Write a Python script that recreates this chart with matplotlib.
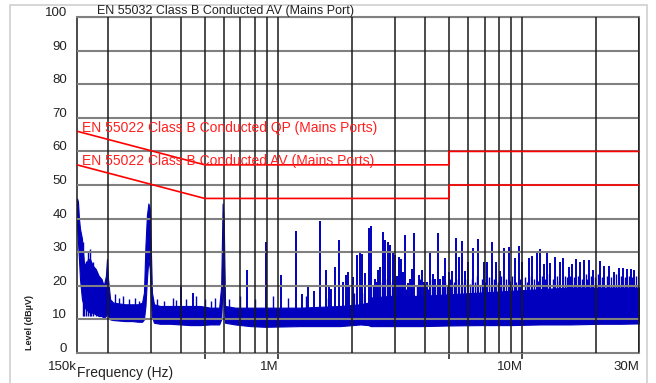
import matplotlib
matplotlib.use("Agg")
import matplotlib.pyplot as plt
import matplotlib.transforms as mtransforms
from matplotlib.patches import Rectangle

plt.rcParams['font.family'] = ['Liberation Sans', 'DejaVu Sans']

# limit lines (MHz, dBuV)
qp_freq = [0.15, 0.5, 5.0, 5.0, 30.0]
qp_level = [66, 56, 56, 60, 60]
av_freq = [0.15, 0.5, 5.0, 5.0, 30.0]
av_level = [56, 46, 46, 50, 50]

# dense noise band of the measured trace (MHz, lower edge, upper edge)
band_freq = [0.150, 0.1514, 0.1528, 0.1543, 0.1572, 0.1601, 0.1632, 0.1663, 0.1695,
             0.174, 0.179, 0.184, 0.189, 0.193, 0.197, 0.199, 0.201, 0.205, 0.211,
             0.236, 0.252, 0.267, 0.277, 0.282, 0.286, 0.290, 0.294, 0.298, 0.300,
             0.304, 0.310, 0.328, 0.361, 0.396, 0.436, 0.479, 0.526, 0.573, 0.584,
             0.592, 0.598, 0.606, 0.666, 0.768, 0.884, 1.23, 1.79, 2.17, 2.34,
             2.39, 2.88, 3.82, 5.07, 6.73, 8.93, 11.85, 15.7, 20.9, 25.2, 30.0]
band_low = [38, 33, 28, 22, 16, 14, 13, 12.5, 12,
            12, 11.5, 11, 11, 10.5, 11, 12, 11, 10, 9.8,
            9.5, 9.5, 9.3, 9.3, 10, 14, 22, 28, 25, 18,
            11, 9, 8.7, 8.7, 8.5, 8.3, 8.3, 8.5, 8.5, 10,
            20, 15, 9, 8.5, 8.0, 7.8, 8.0, 8.0, 8.5, 8.3,
            8.0, 8.0, 8.0, 8.2, 8.3, 8.3, 8.5, 8.5, 8.7, 8.7, 8.8]
band_high = [46, 45, 40, 37, 34, 27, 26, 28, 28,
             26, 25, 23, 22, 20, 23, 28, 22, 16, 15,
             14.5, 14.5, 14.5, 15, 18, 32, 41, 44.5, 43, 35,
             18, 14.5, 14, 14, 14, 14, 14, 13.5, 13.5, 20,
             44.5, 40, 14, 13.5, 13.5, 13.5, 13.5, 14, 14.5, 15,
             16.5, 17, 17, 17.5, 18, 18.5, 19, 19.5, 19.5, 19.5, 19.5]

# narrow spikes above the noise band (MHz, dBuV)
spike_freq = [0.400, 0.448, 0.743, 0.893, 1.028, 1.185, 1.25, 1.327, 1.40, 1.486,
              1.572, 1.617, 1.65, 1.711, 1.778, 1.846, 1.899, 1.935, 1.95, 2.023,
              2.101, 2.167, 2.208, 2.272, 2.359, 2.405, 2.48, 2.53, 2.569, 2.617,
              2.685, 2.745, 2.816, 2.876, 2.940, 3.017, 3.05, 3.111, 3.183, 3.25,
              3.315, 3.387, 3.45, 3.53, 3.608, 3.757, 3.879, 3.95, 4.068, 4.196,
              4.30, 4.40, 4.496, 4.611, 4.72, 4.835, 4.988, 5.151, 5.363, 5.480,
              5.658, 5.838, 5.967, 6.278, 6.580, 6.940, 7.166, 7.530, 7.820, 8.070,
              8.430, 8.780, 9.290, 9.650, 9.970, 10.61, 10.95, 11.48, 11.77, 12.22,
              12.62, 13.02, 13.65, 14.31, 14.68, 15.48, 15.98, 16.64, 17.17, 17.84,
              18.69, 19.48, 20.73, 21.67, 22.58, 23.67, 24.81, 25.86, 26.67, 27.89,
              28.58, 29.96]
spike_level = [19.6, 18.0, 24.7, 33.1, 23.2, 36.2, 17.5, 19.8, 18.5, 39.2,
               24.7, 20.0, 19.0, 25.7, 33.6, 21.2, 23.2, 24.2, 20.0, 22.7,
               29.2, 29.7, 29.5, 23.8, 37.1, 37.8, 22.0, 21.0, 24.7, 25.5,
               36.1, 33.6, 33.1, 32.1, 30.1, 29.2, 23.0, 28.7, 28.0, 24.0,
               35.1, 20.8, 22.0, 25.0, 35.6, 23.2, 24.7, 21.0, 21.0, 30.1,
               23.5, 22.0, 35.6, 22.0, 23.0, 28.2, 24.0, 24.5, 34.1, 28.7,
               33.3, 24.5, 27.0, 31.2, 33.8, 27.2, 27.2, 32.9, 27.2, 24.5,
               31.2, 31.4, 28.2, 31.8, 27.2, 28.2, 28.9, 29.7, 30.9, 26.5,
               30.4, 26.7, 28.7, 27.2, 28.4, 25.7, 26.5, 28.0, 27.2, 27.7,
               27.8, 24.7, 27.5, 26.0, 25.9, 24.2, 25.2, 25.2, 24.9, 24.9,
               24.7, 24.5]

# small ragged peaks on top of the noise band (MHz, dBuV)
ripple_freq = [0.158, 0.1605, 0.163, 0.1665, 0.169, 0.1715, 0.175, 0.180, 0.185, 0.190,
               0.214, 0.222, 0.232, 0.245, 0.258, 0.270, 0.320, 0.340, 0.370, 0.380,
               0.420, 0.460, 0.500, 0.530, 0.550, 0.630, 0.700, 0.800, 0.950, 1.10,
               1.30, 1.60, 1.90, 2.05, 2.20, 2.45, 2.50, 2.65, 2.72, 2.78,
               2.85, 2.92, 2.98, 3.08, 3.15, 3.22, 3.35, 3.50, 3.70, 3.80,
               3.98, 4.10, 4.25, 4.45, 4.55, 4.68, 4.80, 4.90, 5.05, 5.25,
               5.42, 5.60, 5.75, 5.90, 6.10, 6.20, 6.40, 6.50, 6.70, 6.85,
               7.05, 7.30, 7.45, 7.65, 7.95, 8.20, 8.35, 8.60, 8.90, 9.10,
               9.45, 9.80, 10.2, 10.4, 10.8, 11.2, 11.6, 12.0, 12.4, 12.8,
               13.3, 13.9, 14.1, 14.9, 15.2, 15.7, 16.3, 16.9, 17.5, 18.2,
               18.4, 19.0, 19.9, 20.3, 21.2, 22.1, 23.1, 24.2, 25.3, 26.2,
               27.3, 28.2, 29.3]
ripple_level = [33, 26, 27.5, 30, 31, 25, 27, 23, 22.5, 20,
                17.5, 16.5, 17, 16, 16.5, 15.5, 16, 15.5, 16.5, 15.8,
                16, 17, 16, 15.5, 16.5, 16, 17, 16, 17, 16.5,
                17, 16.5, 17, 18, 18, 20, 19, 21, 19, 22,
                20, 21, 19.5, 22, 20, 21, 19, 21, 20, 22,
                20.5, 19, 22, 20, 21, 19.5, 21, 20, 22, 21,
                22, 20, 21, 22, 20.5, 22, 21, 23, 20, 22,
                21, 22.5, 20, 22, 21, 23, 20, 22, 21.5, 23,
                21, 22, 22.5, 21, 23, 22, 21.5, 23, 22, 23.5,
                22, 23, 21.5, 23, 22.5, 23, 22.5, 23, 22, 23.5,
                22, 23, 22.5, 23.5, 22.5, 23, 22.5, 23.5, 23, 22.5,
                23, 22.5, 23]

grid_freq = [0.2, 0.3, 0.4, 0.5, 0.6, 0.7, 0.8, 0.9, 1, 2, 3, 4, 5, 6, 7, 8, 9,
             10, 20, 30]
tick_freq = [0.15, 0.5, 1, 5, 10, 30]
tick_text = ['150k', '', '1M', '', '10M', '30M']

trace_color = '#0000BE'

fig = plt.figure(figsize=(6.56, 3.83), dpi=100)
ax = fig.add_axes([77/656, 30/383, 562/656, 336/383])

ax.fill_between(band_freq, band_low, band_high, color=trace_color, lw=0.8,
                edgecolor=trace_color, zorder=1)
ax.vlines(ripple_freq, 11, ripple_level, color=trace_color, lw=1.0, zorder=1.2)
ax.vlines(spike_freq, 10, spike_level, color=trace_color, lw=1.4, zorder=1.5)

ax.plot(qp_freq, qp_level, color='#FF0000', lw=1.2, zorder=4)
ax.plot(av_freq, av_level, color='#FF0000', lw=1.2, zorder=4)
ax.text(0.157, 67.1, 'EN 55022 Class B Conducted QP (Mains Ports)', color='#FF2020',
        fontsize=10, va='center', zorder=5)
ax.text(0.157, 57.1, 'EN 55022 Class B Conducted AV (Mains Ports)', color='#FF2020',
        fontsize=10, va='center', zorder=5)

ax.set_xscale('log')
ax.set_xlim(0.15, 30)
ax.set_ylim(0, 100)

# grid lines: dark verticals, grey horizontals
for f in grid_freq:
    ax.axvline(f, color='#1a1a1a', lw=1.1, zorder=3)
ax.set_yticks(range(0, 101, 10))
for v in range(10, 101, 10):
    ax.axhline(v, color='#808080', lw=1.5, zorder=2.8)

ax.set_xticks(tick_freq)
ax.set_xticklabels(tick_text)
ax.xaxis.set_minor_locator(matplotlib.ticker.NullLocator())
ax.tick_params(axis='x', length=4, width=1.1, color='#1a1a1a', pad=2,
               labelsize=9.5, labelcolor='#222222')
ax.tick_params(axis='y', length=0, pad=7, labelsize=9.5, labelcolor='#222222')
for t in [ax.xaxis.get_major_ticks()[0], ax.xaxis.get_major_ticks()[-1]]:
    t.tick1line.set_visible(False)
for lbl in ax.get_xticklabels():
    lbl.set_ha('right')
offset = mtransforms.ScaledTranslation(0, 4/72, fig.dpi_scale_trans)
for lbl in ax.get_yticklabels():
    lbl.set_transform(lbl.get_transform() + offset)

for side in ['top', 'bottom']:
    ax.spines[side].set_color('#808080')
    ax.spines[side].set_linewidth(1.5)
for side in ['left', 'right']:
    ax.spines[side].set_color('#1a1a1a')
    ax.spines[side].set_linewidth(1.1)

fig.text(97/656, 1 - 11/383, 'EN 55032 Class B Conducted AV (Mains Port)',
         fontsize=9, va='center', ha='left', color='#222222')
fig.text(77/656, 1 - 373/383, 'Frequency (Hz)', fontsize=10, va='center', ha='left',
         color='#222222')
fig.text(30/656, 1 - 323/383, 'Level (dB\u00b5V)', fontsize=6.5, fontweight='bold',
         rotation=90, va='center', ha='center', color='#222222')

fig.patches.append(Rectangle((10/656, -0.01), 637/656, 1 - 5/383 + 0.01,
                             transform=fig.transFigure, fill=False,
                             edgecolor='#d0d0d0', lw=1.2))

fig.savefig('out.png', dpi=100)
